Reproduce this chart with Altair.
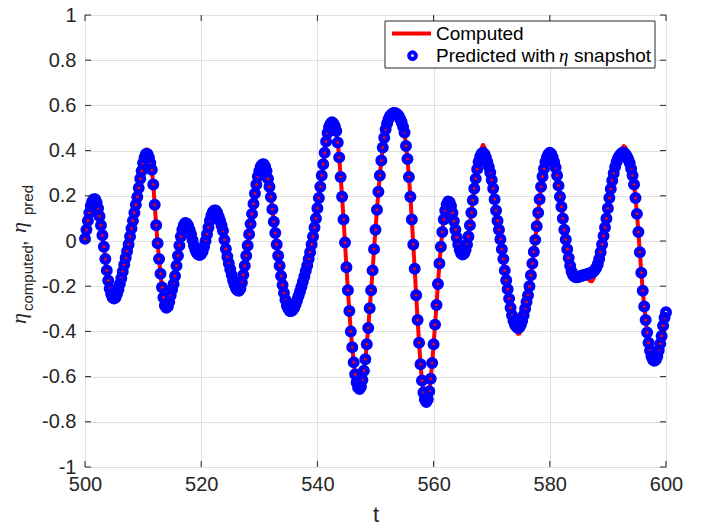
import altair as alt
import pandas as pd

# ---------------- data ----------------
T_START = 500.0
T_STEP = 0.25

# predicted eta (blue markers), one value every 0.25 in t, t = 500 ... 600
predicted = [
    0.01, 0.05, 0.09, 0.125, 0.155, 0.175, 0.185, 0.185, 0.17, 0.145, 0.11, 0.07, 0.025, -0.025, -0.08, -0.13, -0.175, -0.21, -0.235, -0.25,
    -0.255, -0.25, -0.235, -0.215, -0.19, -0.165, -0.135, -0.105, -0.075, -0.045, -0.015, 0.02, 0.055, 0.09, 0.125, 0.16, 0.195, 0.235, 0.275, 0.31,
    0.345, 0.37, 0.385, 0.385, 0.37, 0.345, 0.315, 0.25, 0.16, 0.07, -0.01, -0.08, -0.145, -0.205, -0.25, -0.285, -0.295, -0.29, -0.27, -0.24,
    -0.215, -0.19, -0.155, -0.11, -0.065, -0.02, 0.02, 0.05, 0.07, 0.08, 0.078, 0.068, 0.05, 0.03, 0.005, -0.02, -0.04, -0.053, -0.06, -0.062,
    -0.058, -0.045, -0.025, 0.0, 0.03, 0.06, 0.09, 0.113, 0.128, 0.135, 0.135, 0.125, 0.108, 0.09, 0.07, 0.045, 0.005, -0.035, -0.07, -0.098,
    -0.125, -0.15, -0.175, -0.195, -0.21, -0.218, -0.22, -0.21, -0.185, -0.15, -0.11, -0.065, -0.02, 0.03, 0.075, 0.12, 0.165, 0.21, 0.25, 0.285,
    0.31, 0.33, 0.338, 0.34, 0.33, 0.31, 0.275, 0.24, 0.195, 0.14, 0.085, 0.035, -0.015, -0.065, -0.11, -0.155, -0.195, -0.23, -0.26, -0.285,
    -0.3, -0.31, -0.31, -0.305, -0.295, -0.28, -0.262, -0.243, -0.223, -0.202, -0.18, -0.157, -0.133, -0.108, -0.08, -0.05, -0.015, 0.02, 0.06, 0.1,
    0.145, 0.19, 0.24, 0.29, 0.34, 0.39, 0.44, 0.478, 0.503, 0.518, 0.525, 0.52, 0.507, 0.487, 0.436, 0.37, 0.283, 0.196, 0.095, -0.007,
    -0.116, -0.218, -0.31, -0.4, -0.47, -0.537, -0.59, -0.625, -0.648, -0.655, -0.645, -0.615, -0.574, -0.523, -0.457, -0.385, -0.298, -0.218, -0.13, -0.036,
    0.05, 0.138, 0.218, 0.29, 0.356, 0.414, 0.457, 0.494, 0.52, 0.54, 0.553, 0.56, 0.565, 0.566, 0.565, 0.56, 0.553, 0.54, 0.525, 0.505,
    0.48, 0.42, 0.363, 0.283, 0.196, 0.095, -0.015, -0.123, -0.24, -0.35, -0.45, -0.545, -0.617, -0.67, -0.70, -0.712, -0.70, -0.665, -0.61, -0.54,
    -0.457, -0.37, -0.283, -0.19, -0.1, -0.025, 0.04, 0.095, 0.135, 0.162, 0.175, 0.172, 0.155, 0.125, 0.088, 0.05, 0.015, -0.015, -0.04, -0.055,
    -0.06, -0.055, -0.04, -0.015, 0.02, 0.07, 0.125, 0.18, 0.232, 0.276, 0.318, 0.35, 0.372, 0.386, 0.39, 0.385, 0.37, 0.35, 0.328, 0.303,
    0.27, 0.232, 0.185, 0.135, 0.09, 0.05, 0.008, -0.036, -0.08, -0.13, -0.174, -0.213, -0.255, -0.295, -0.328, -0.353, -0.37, -0.38, -0.385, -0.383,
    -0.372, -0.353, -0.328, -0.3, -0.27, -0.24, -0.2, -0.152, -0.1, -0.048, 0.005, 0.065, 0.125, 0.185, 0.24, 0.285, 0.32, 0.35, 0.37, 0.384,
    0.39, 0.385, 0.37, 0.35, 0.325, 0.29, 0.245, 0.196, 0.152, 0.1, 0.05, 0.007, -0.036, -0.075, -0.11, -0.135, -0.15, -0.157, -0.16, -0.16,
    -0.158, -0.156, -0.154, -0.152, -0.15, -0.148, -0.146, -0.144, -0.142, -0.14, -0.135, -0.128, -0.118, -0.103, -0.08, -0.05, -0.015, 0.022, 0.06, 0.1,
    0.145, 0.19, 0.23, 0.268, 0.3, 0.328, 0.35, 0.366, 0.377, 0.385, 0.39, 0.39, 0.385, 0.375, 0.362, 0.345, 0.32, 0.29, 0.25, 0.19,
    0.12, 0.04, -0.05, -0.14, -0.22, -0.29, -0.35, -0.405, -0.45, -0.485, -0.51, -0.525, -0.53, -0.525, -0.51, -0.485, -0.455, -0.42, -0.375, -0.34,
    -0.315,
]

# computed eta (red line): equal to the prediction except where the red line shows beyond the markers
computed_differs = {
    500.0: -0.005,
    510.25: 0.385, 510.5: 0.405, 510.75: 0.405, 511.0: 0.38,
    568.0: 0.385, 568.25: 0.41, 568.5: 0.425, 568.75: 0.415, 569.0: 0.39,
    574.25: -0.395, 574.5: -0.41, 574.75: -0.41, 575.0: -0.395,
    586.25: -0.155, 586.5: -0.163, 586.75: -0.172, 587.0: -0.178, 587.25: -0.178, 587.5: -0.168, 587.75: -0.148,
    592.25: 0.398, 592.5: 0.412, 592.75: 0.42, 593.0: 0.415, 593.25: 0.395,
}

x_ticks = [500, 520, 540, 560, 580, 600]
y_ticks = [-1, -0.8, -0.6, -0.4, -0.2, 0, 0.2, 0.4, 0.6, 0.8, 1]

legend_labels = ["Computed", "Predicted with", "\u03b7", "snapshot"]
ylabel_parts = ["\u03b7", "computed", ",", "\u03b7", "pred"]

# ---------------- build chart ----------------
t = [T_START + T_STEP * i for i in range(len(predicted))]
computed = [computed_differs.get(tt, p) for tt, p in zip(t, predicted)]
df = pd.DataFrame({"t": t, "computed": computed, "predicted": predicted})

W, H = 581, 452
AX = "#262626"
SANS = "Liberation Sans"
SERIF = "Liberation Serif"

xs = alt.Scale(domain=[500, 600], nice=False, zero=False)
ys = alt.Scale(domain=[-1, 1], nice=False, zero=False)
xaxis = alt.Axis(values=x_ticks, title="t", grid=True, ticks=False, domain=False, labelFlush=False,
                 labelFontSize=20, labelPadding=7, titleFontSize=22, titlePadding=10)
yaxis = alt.Axis(values=y_ticks, title="", grid=True, ticks=False, domain=False, labelFlush=False,
                 labelFontSize=20, labelPadding=9,
                 labelExpr="datum.value < 0 ? '-' + format(-datum.value, '~g') : format(datum.value, '~g')")

line = alt.Chart(df).mark_line(color="#ff0000", strokeWidth=4, strokeJoin="round").encode(
    x=alt.X("t:Q", scale=xs, axis=xaxis),
    y=alt.Y("computed:Q", scale=ys, axis=yaxis),
)

pts = alt.Chart(df).mark_point(shape="circle", filled=False, color="#0000ff", strokeWidth=4.5,
                               size=56, opacity=1).encode(
    x=alt.X("t:Q", scale=xs, axis=xaxis),
    y=alt.Y("predicted:Q", scale=ys, axis=yaxis),
)

xt = pd.DataFrame({"v": x_ticks})
yt = pd.DataFrame({"v": y_ticks})
TL = 6
tick_bottom = alt.Chart(xt).mark_rule(color=AX, strokeWidth=1).encode(
    x=alt.X("v:Q", scale=xs, axis=xaxis), y=alt.value(H), y2=alt.value(H - TL))
tick_top = alt.Chart(xt).mark_rule(color=AX, strokeWidth=1).encode(
    x=alt.X("v:Q", scale=xs, axis=xaxis), y=alt.value(0), y2=alt.value(TL))
tick_left = alt.Chart(yt).mark_rule(color=AX, strokeWidth=1).encode(
    y=alt.Y("v:Q", scale=ys, axis=yaxis), x=alt.value(0), x2=alt.value(TL))
tick_right = alt.Chart(yt).mark_rule(color=AX, strokeWidth=1).encode(
    y=alt.Y("v:Q", scale=ys, axis=yaxis), x=alt.value(W), x2=alt.value(W - TL))

one = pd.DataFrame({"k": [0]})
leg_box = alt.Chart(one).mark_rect(fill="white", stroke=AX, strokeWidth=1).encode(
    x=alt.value(300), x2=alt.value(570), y=alt.value(6), y2=alt.value(53))
leg_line = alt.Chart(one).mark_rule(color="#ff0000", strokeWidth=4).encode(
    x=alt.value(307), x2=alt.value(346), y=alt.value(18.5))
leg_pt = alt.Chart(one).mark_point(shape="circle", filled=False, color="#0000ff", strokeWidth=4,
                                   size=45, opacity=1).encode(x=alt.value(327.5), y=alt.value(40.7))


def txt(s, x, y, size, font=SANS, style="normal", angle=0, color="#000000"):
    return alt.Chart(one).mark_text(align="left", baseline="alphabetic", font=font, fontSize=size,
                                    fontStyle=style, angle=angle, color=color).encode(
        x=alt.value(x), y=alt.value(y), text=alt.value(s))


leg_t1 = txt(legend_labels[0], 351, 24.5, 19)
leg_t2 = txt(legend_labels[1], 351, 46.8, 19)
leg_t3 = txt(legend_labels[2], 474, 46.8, 19, font=SERIF, style="italic")
leg_t4 = txt(legend_labels[3], 489, 46.8, 19)

yl1 = txt(ylabel_parts[0], -59, 309, 22, font=SERIF, style="italic", angle=270, color=AX)
yl2 = txt(ylabel_parts[1], -52, 296, 15, angle=270, color=AX)
yl3 = txt(ylabel_parts[2], -59, 231, 20, angle=270, color=AX)
yl4 = txt(ylabel_parts[3], -59, 218, 22, font=SERIF, style="italic", angle=270, color=AX)
yl5 = txt(ylabel_parts[4], -52, 200, 15, angle=270, color=AX)

chart = alt.layer(
    line, pts, tick_bottom, tick_top, tick_left, tick_right,
    leg_box, leg_line, leg_pt, leg_t1, leg_t2, leg_t3, leg_t4,
    yl1, yl2, yl3, yl4, yl5,
).properties(
    width=W, height=H,
    autosize=alt.AutoSizeParams(type="none"),
    padding={"left": 77, "top": 7, "right": 34, "bottom": 55},
    background="white",
).configure_axis(
    gridColor="#dfdfdf", gridWidth=1, labelFont=SANS, labelColor=AX,
    titleFont=SANS, titleColor=AX, titleFontWeight="normal",
).configure_view(stroke=AX, strokeWidth=1)

chart.save("out.html", embed_options={"renderer": "svg", "actions": False})
